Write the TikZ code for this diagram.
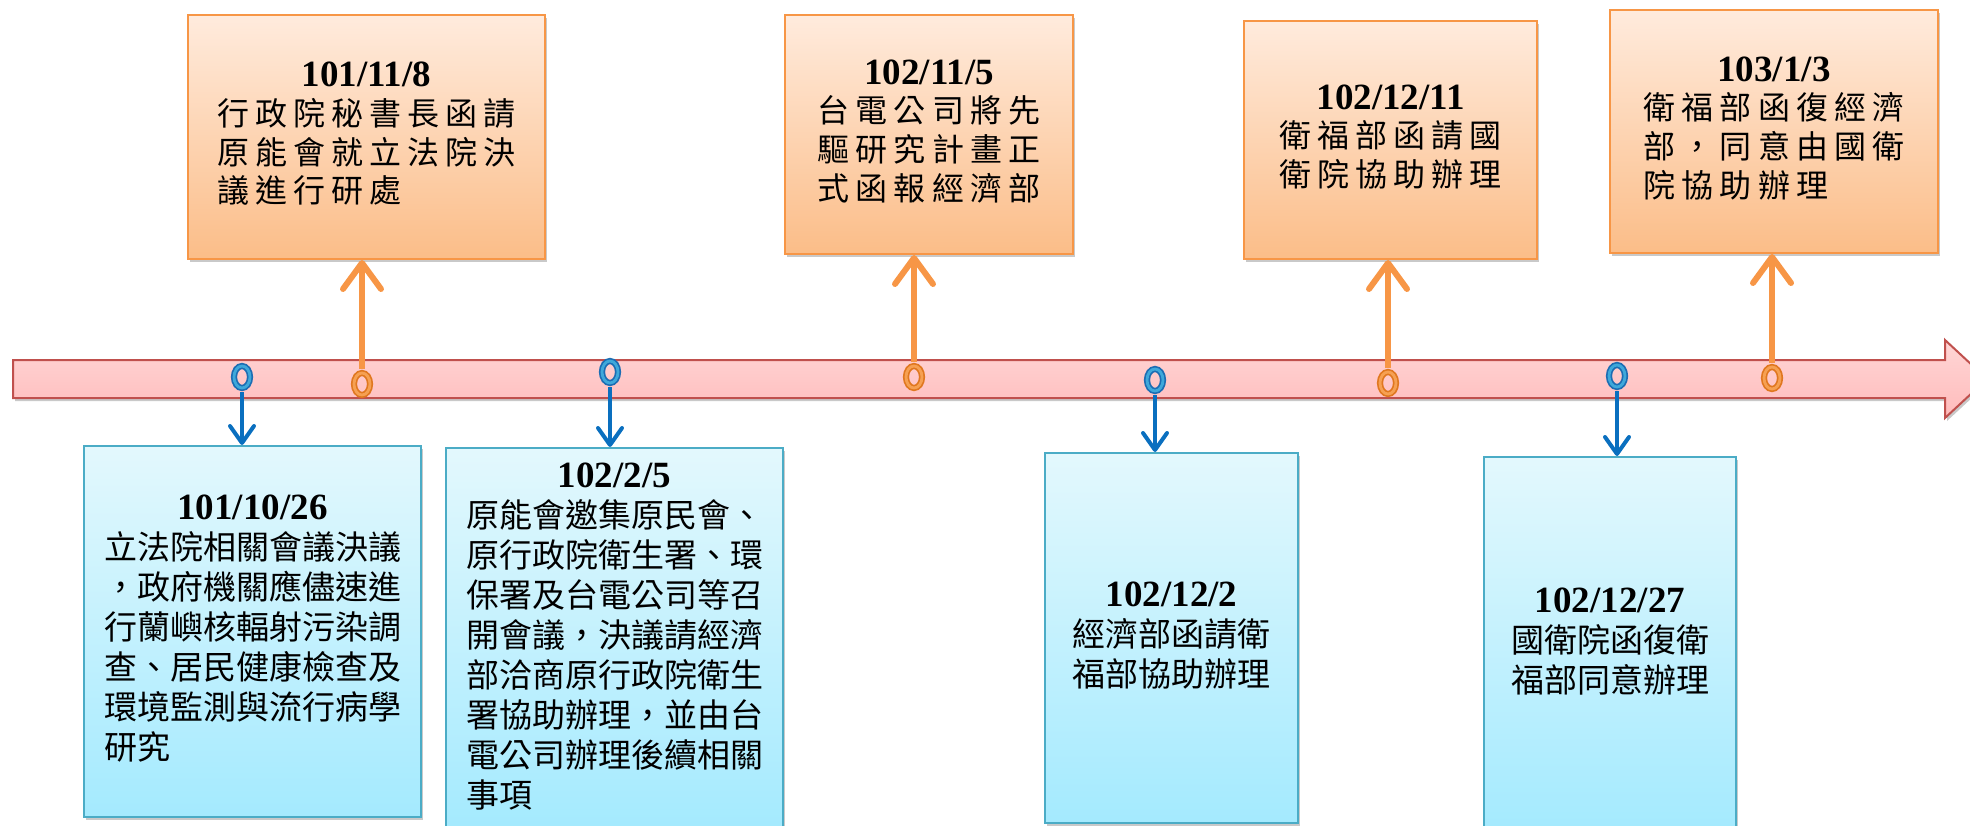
\documentclass[tikz,border=0pt]{standalone}
\usepackage{fontspec}
\setmainfont{Liberation Serif}
\newfontfamily\cjk{Noto Sans CJK TC}
\newfontfamily\cjkwide{Noto Sans CJK TC}[LetterSpace=19]
\usetikzlibrary{arrows.meta,shapes.geometric,shadows}
\definecolor{barfilltop}{HTML}{FFD6D6}
\definecolor{barfillbot}{HTML}{FFBBBB}
\definecolor{baredge}{HTML}{C0504D}
\definecolor{uptop}{HTML}{FFEBDD}
\definecolor{upbot}{HTML}{FBBD88}
\definecolor{upedge}{HTML}{F79646}
\definecolor{upring}{HTML}{E0771F}
\definecolor{upcore}{HTML}{F6A052}
\definecolor{dntop}{HTML}{E3F8FD}
\definecolor{dnbot}{HTML}{A4EAFE}
\definecolor{dnedge}{HTML}{4BACC6}
\definecolor{dnring}{HTML}{1C6DB3}
\definecolor{dncore}{HTML}{3FA8DA}
\definecolor{dnarrow}{HTML}{0A6FBF}
\newcommand{\dt}{\normalfont\bfseries\fontsize{37}{38.5}\selectfont}
\newcommand{\upfont}{\cjkwide\fontsize{32}{38.5}\selectfont}
\newcommand{\dnfont}{\cjk\fontsize{33}{40}\selectfont}
\newcommand{\evt}[2]{\begin{tabular}{@{}l@{}}\multicolumn{1}{@{}c@{}}{\dt #1}\\#2\end{tabular}}
\tikzset{>=stealth,
	shd/.style={drop shadow={shadow xshift=2pt,shadow yshift=-3pt,opacity=0.3,fill=black!70}},
	upbox/.style={rectangle,draw=upedge,line width=2pt,top color=uptop,bottom color=upbot,inner sep=0pt,font=\upfont,shd},
	dnbox/.style={rectangle,draw=dnedge,line width=2pt,top color=dntop,bottom color=dnbot,inner sep=0pt,font=\dnfont,shd},
	upmark/.style={ellipse,draw=upring,double=upcore,line width=1.7pt,double distance=2.8pt,minimum width=16pt,minimum height=22pt,inner sep=0pt},
	dnmark/.style={ellipse,draw=dnring,double=dncore,line width=1.7pt,double distance=2.8pt,minimum width=16pt,minimum height=22pt,inner sep=0pt},
	upline/.style={draw=upedge,line width=6pt,shorten <=3pt,-{Straight Barb[length=26pt,width=38pt,round]}},
	dnline/.style={draw=dnarrow,line width=4pt,shorten <=3pt,-{Straight Barb[length=17pt,width=24pt,round]}},
}

\begin{document}
\begin{tikzpicture}[x=1pt,y=-1pt]
	\useasboundingbox (0,0) rectangle (1970,826);
	% time axis
	\path[draw=baredge,line width=2pt,top color=barfilltop,bottom color=barfillbot,shd]
		(13,360) -- (1945,360) -- (1945,340) -- (1987,379) -- (1945,418) -- (1945,398) -- (13,398) -- cycle;
	% events above the axis
	\node[upbox,minimum width=357pt,minimum height=244pt] (Up1) at (366.5,137) {\evt{101/11/8}{行政院秘書長函請\\原能會就立法院決\\議進行研處}};
	\node[upbox,minimum width=288pt,minimum height=239pt] (Up2) at (929,134.5) {\evt{102/11/5}{台電公司將先\\驅研究計畫正\\式函報經濟部}};
	\node[upbox,minimum width=293pt,minimum height=238pt] (Up3) at (1390.5,140) {\evt{102/12/11}{衛福部函請國\\衛院協助辦理}};
	\node[upbox,minimum width=328pt,minimum height=243pt] (Up4) at (1774,131.5) {\evt{103/1/3}{衛福部函復經濟\\部，同意由國衛\\院協助辦理}};
	% events below the axis
	\node[dnbox,minimum width=337pt,minimum height=371pt] (Dn1) at (252.5,631.5) {\evt{101/10/26}{立法院相關會議決議\\，政府機關應儘速進\\行蘭嶼核輻射污染調\\查、居民健康檢查及\\環境監測與流行病學\\研究}};
	\node[dnbox,minimum width=337pt,minimum height=382pt] (Dn2) at (614.5,639) {\evt{102/2/5}{原能會邀集原民會、\\原行政院衛生署、環\\保署及台電公司等召\\開會議，決議請經濟\\部洽商原行政院衛生\\署協助辦理，並由台\\電公司辦理後續相關\\事項}};
	\node[dnbox,minimum width=253pt,minimum height=370pt] (Dn3) at (1171.5,638) {\evt{102/12/2}{經濟部函請衛\\福部協助辦理}};
	\node[dnbox,minimum width=252pt,minimum height=375pt] (Dn4) at (1610,644.5) {\evt{102/12/27}{國衛院函復衛\\福部同意辦理}};
	% markers on the axis
	\node[upmark] (Mu1) at (362,384) {};
	\node[upmark] (Mu2) at (914,377) {};
	\node[upmark] (Mu3) at (1388,383) {};
	\node[upmark] (Mu4) at (1772,378) {};
	\node[dnmark] (Md1) at (242,377) {};
	\node[dnmark] (Md2) at (610,372) {};
	\node[dnmark] (Md3) at (1155,380) {};
	\node[dnmark] (Md4) at (1617,376) {};
	% connectors
	\draw[upline] (Mu1.north) -- (Mu1 |- Up1.south);
	\draw[upline] (Mu2.north) -- (Mu2 |- Up2.south);
	\draw[upline] (Mu3.north) -- (Mu3 |- Up3.south);
	\draw[upline] (Mu4.north) -- (Mu4 |- Up4.south);
	\draw[dnline] (Md1.south) -- (Md1 |- Dn1.north);
	\draw[dnline] (Md2.south) -- (Md2 |- Dn2.north);
	\draw[dnline] (Md3.south) -- (Md3 |- Dn3.north);
	\draw[dnline] (Md4.south) -- (Md4 |- Dn4.north);
\end{tikzpicture}
\end{document}
